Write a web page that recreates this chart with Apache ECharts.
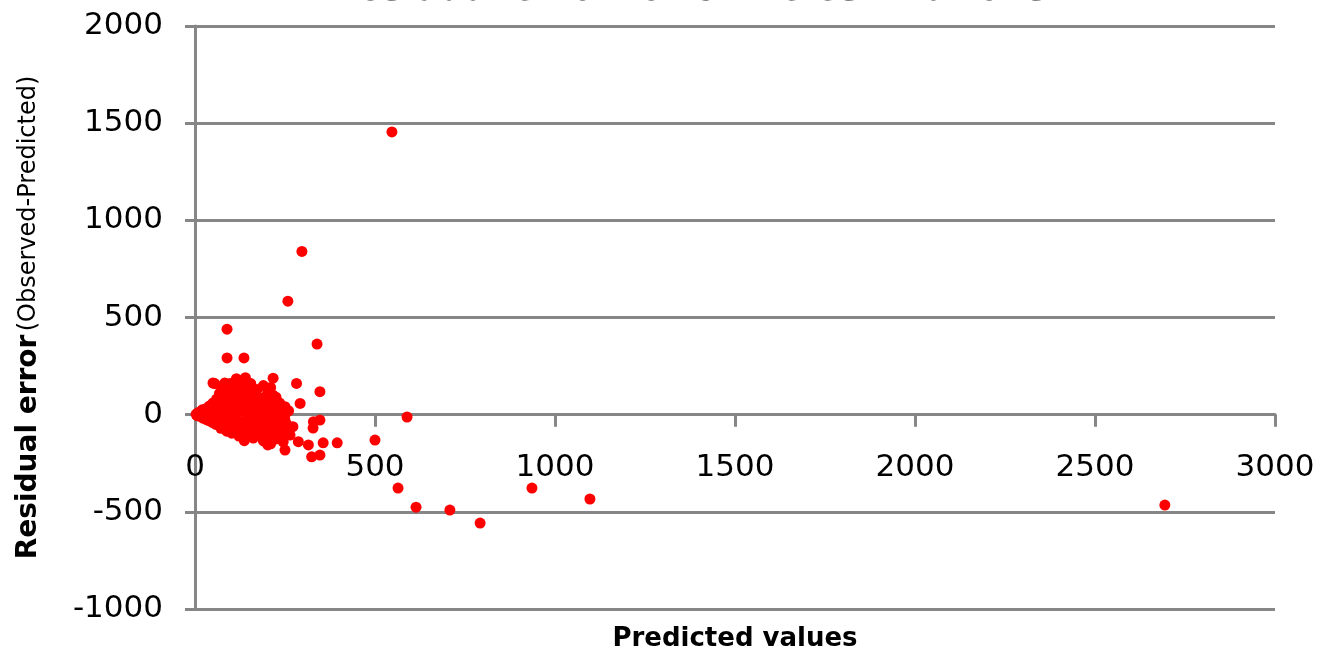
<!DOCTYPE html>
<html>
<head>
<meta charset="utf-8">
<title>Residual error for crime estimations</title>
<script src="https://cdn.jsdelivr.net/npm/echarts@6/dist/echarts.min.js"></script>
<style>
  html, body { margin: 0; padding: 0; background: #ffffff; }
  #chart { width: 1323px; height: 657px; }
</style>
</head>
<body>
<div id="chart"></div>
<script>
// Predicted value of each estimate (x) and its residual, observed minus predicted (y)
const predicted = [
  3, 6, 8, 12, 15, 18, 20, 22, 25, 28, 30, 32, 35, 38, 40, 42, 45, 48, 50, 52,
  55, 58, 60, 62, 65, 68, 70, 72, 75, 75, 78, 80, 82, 85, 85, 88, 90, 92, 95, 98,
  100, 100, 102, 105, 108, 110, 112, 115, 118, 120, 122, 125, 125, 128, 130, 132, 135, 135, 138, 140,
  142, 145, 148, 150, 152, 155, 155, 158, 160, 162, 165, 165, 168, 170, 172, 175, 178, 180, 182, 185,
  188, 190, 192, 195, 198, 200, 202, 205, 208, 210, 212, 215, 218, 220, 222, 225, 228, 230, 232, 235,
  240, 245, 250, 55, 115, 140, 145, 50, 83,
  238, 245, 255, 260, 235, 248, 262, 240, 225, 210, 200, 190,
  547, 297, 258, 89, 339, 89, 136, 217, 347, 282, 292, 250, 250, 329, 347, 328, 272, 264, 287, 315,
  250, 324, 347, 356, 395, 500, 589, 564, 614, 708, 792, 936, 1097, 2694, 217, 202, 137
];
const residual = [
  2, -5, 10, -8, 15, -3, 25, -18, 5, -12, 30, -25, 12, -30, 45, -8, 20, -40, 60, -15,
  35, -50, 80, 5, -35, 110, 50, -70, 140, 20, -20, 95, -55, 150, 65, -85, 30, 120, -40, 160,
  75, -10, -95, 45, 130, -60, 170, 10, 95, -30, -110, 150, 55, -75, 175, 20, 110, -45, -125, 80,
  140, -15, 40, -90, 120, 160, 5, -60, 70, -120, 100, -30, 30, -80, 130, -5, 55, -100, -40, 85,
  10, -135, -65, 45, -20, -95, 115, 0, -50, -150, 70, -110, 25, -70, -30, -125, -85, -10, -45, -100,
  -60, -140, -30, 160, 185, 190, 160, 163, 163,
  30, -15, -50, 20, 60, -90, -75, -110, 90, 140, 40, 150,
  1455, 840, 584, 440, 363, 292, 292, 188, 118, 161, 58, 41, -2, -36, -28, -69, -62, -105, -139, -156,
  -182, -217, -208, -145, -145, -131, -12, -378, -476, -491, -558, -378, -434, -465, 100, -156, -134
];

// Axis ranges and tick step
const xTicks = [0, 500, 1000, 1500, 2000, 2500, 3000];
const yTicks = [-1000, -500, 0, 500, 1000, 1500, 2000];
const tickStep = 500;

const points = predicted.map((p, i) => [p, residual[i]]);

// Plot box in pixels
const W = 1323, H = 657;
const gridBox = { left: 195, right: 48, top: 26, bottom: 48 };
const plotH = H - gridBox.top - gridBox.bottom;
const yMin = yTicks[0], yMax = yTicks[yTicks.length - 1];
// The x axis crosses the y axis at residual 0: shift it up from the bottom edge
const xAxisShift = -plotH * (0 - yMin) / (yMax - yMin);

const gray = '#868686';
const plain = v => String(v);
const chart = echarts.init(document.getElementById('chart'));

chart.setOption({
  animation: false,
  backgroundColor: '#ffffff',
  title: {
    text: 'Residual error for crime estimations',
    left: 331,
    top: -27,
    padding: 0,
    textStyle: { fontFamily: 'DejaVu Sans', fontWeight: 'bold', fontSize: 35, color: '#000' }
  },
  grid: Object.assign({ containLabel: false, outerBoundsMode: 'none' }, gridBox),
  xAxis: {
    type: 'value',
    position: 'bottom',
    offset: xAxisShift,
    min: xTicks[0],
    max: xTicks[xTicks.length - 1],
    interval: tickStep,
    name: 'Predicted values',
    nameLocation: 'middle',
    nameGap: 212,
    nameTextStyle: { fontFamily: 'DejaVu Sans', fontWeight: 'bold', fontSize: 26, color: '#000' },
    axisLine: { show: true, onZero: false, lineStyle: { color: gray, width: 3 } },
    axisTick: { show: true, length: 12, lineStyle: { color: gray, width: 3 } },
    axisLabel: { margin: 38, fontFamily: 'DejaVu Sans', fontSize: 31, color: '#000', formatter: plain },
    splitLine: { show: false }
  },
  yAxis: {
    type: 'value',
    min: yMin,
    max: yMax,
    interval: tickStep,
    name: '{b|Residual error} {n|(Observed-Predicted)}',
    nameLocation: 'middle',
    nameRotate: 90,
    nameGap: 152,
    nameTextStyle: {
      rich: {
        b: { fontFamily: 'DejaVu Sans', fontWeight: 'bold', fontSize: 28, color: '#000' },
        n: { fontFamily: 'DejaVu Sans', fontSize: 24, color: '#000' }
      }
    },
    axisLine: { show: true, onZero: false, lineStyle: { color: gray, width: 3 } },
    axisTick: { show: true, length: 10, lineStyle: { color: gray, width: 3 } },
    axisLabel: { margin: 32, fontFamily: 'DejaVu Sans', fontSize: 31, color: '#000', formatter: plain },
    splitLine: { show: true, lineStyle: { color: gray, width: 3 } }
  },
  series: [{
    type: 'scatter',
    data: points,
    symbol: 'circle',
    symbolSize: 11,
    itemStyle: { color: '#ff0000', opacity: 1 }
  }]
});
</script>
</body>
</html>
